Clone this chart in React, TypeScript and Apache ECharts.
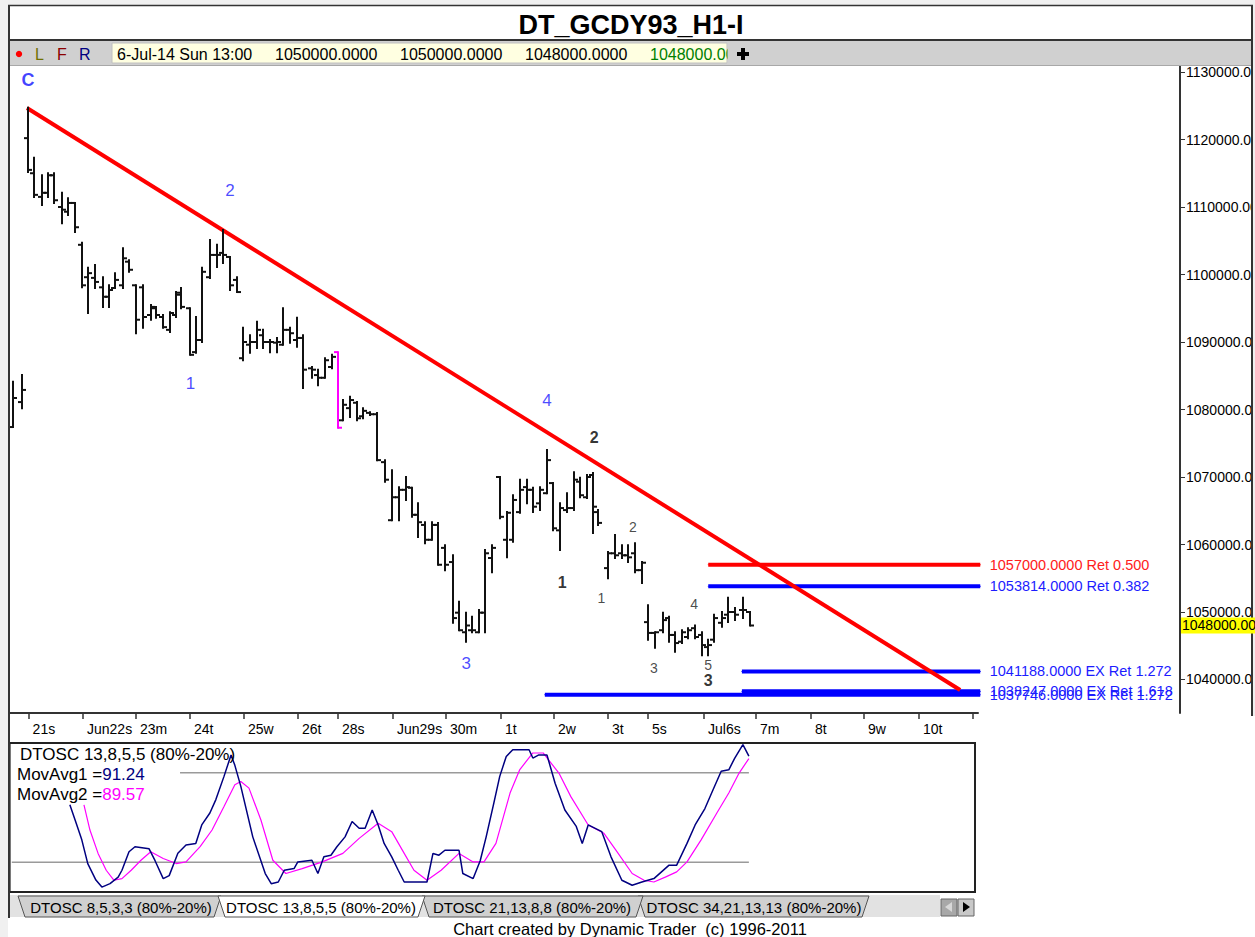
import React, { useEffect, useRef } from "react";
import * as echarts from "echarts";

const FONT = '"Liberation Sans", Arial, Helvetica, sans-serif';

// ---- price bars (time in bar units, prices) ----
const barTime = [0.6,2.3,3.4,4.5,6.0,7.1,8.2,9.7,10.8,12.0,13.3,14.4,15.7,17.2,18.3,19.4,20.9,22.0,23.3,24.6,26.0,27.0,28.3,29.6,30.7,31.6,33.2,34.3,35.4,36.9,38.2,39.3,40.6,41.9,43.0,44.3,45.6,46.7,48.0,49.3,50.4,51.7,52.9,54.1,55.7,56.8,58.1,59.4,60.5,61.4,62.7,64.0,65.1,66.4,67.7,69.2,70.4,71.7,73.0,74.1,75.2,76.5,77.8,78.9,80.2,81.7,82.8,84.1,85.2,86.5,87.6,88.9,90.3,91.6,92.7,94.0,95.3,96.4,97.7,99.0,100.1,101.4,102.7,103.9,105.1,106.4,107.5,108.4,110.3,111.5,112.8,113.9,115.2,116.5,117.6,118.9,120.4,121.5,122.6,123.9,125.0,126.3,127.6,128.7,129.8,131.2,132.4,133.6,135.1,136.4];
const barOpen = [1077400,1081100,1120200,1115000,1111500,1112100,1114700,1110000,1109300,1110600,1104400,1099600,1099500,1098100,1096700,1098000,1098400,1101900,1098400,1098100,1094000,1095000,1093700,1091800,1094000,1097000,1095000,1088500,1090300,1099600,1102900,1103200,1102600,1099200,1087600,1089600,1090000,1091000,1090000,1089900,1089600,1091800,1090300,1090600,1086100,1085100,1084700,1086300,1088500,1078400,1080200,1081000,1079000,1079500,1079300,1072200,1063600,1067000,1068100,1068400,1064400,1062900,1060700,1062900,1059500,1057400,1049900,1047000,1047300,1047000,1049900,1058000,1070000,1060700,1060700,1064800,1068500,1068100,1066100,1067600,1069100,1062100,1065100,1065400,1069300,1067000,1070300,1064800,1056500,1058700,1058700,1058400,1058700,1056200,1048500,1046900,1047300,1049100,1046600,1045600,1046300,1047600,1046600,1044800,1045900,1048400,1049600,1050000,1050300,1050000];
const barHigh = [1084100,1085100,1124700,1117300,1114700,1115000,1115000,1112100,1111300,1110600,1104700,1101000,1101400,1099600,1098400,1100200,1103900,1102100,1098400,1098400,1095500,1095200,1094000,1094400,1097400,1098000,1095000,1093700,1101000,1105100,1104400,1106600,1102600,1099600,1092100,1091000,1093000,1091800,1090300,1090600,1095000,1092100,1093600,1091000,1086300,1085900,1087600,1088100,1088500,1081400,1081900,1081100,1080200,1079600,1079500,1072500,1071000,1068500,1070000,1068400,1066100,1063300,1063300,1063200,1059900,1058400,1051500,1049900,1049300,1050300,1059200,1059900,1070000,1064800,1067300,1069600,1069600,1068400,1068500,1074000,1069100,1066100,1067600,1070700,1069900,1070300,1070600,1065100,1058900,1061400,1059900,1059900,1060200,1057400,1051000,1047000,1049900,1049300,1047000,1047300,1047600,1048000,1047000,1045900,1049600,1050000,1052100,1050600,1052100,1050000];
const barLow = [1077400,1080200,1115200,1111500,1110300,1111500,1110600,1107600,1108800,1106300,1098100,1094300,1098000,1095200,1095200,1098000,1098000,1100400,1091300,1092100,1093300,1093600,1092100,1091500,1093700,1095000,1088100,1088400,1090000,1099500,1101100,1101700,1097700,1097400,1087300,1088400,1089100,1089100,1088500,1088500,1089600,1089900,1089300,1083200,1084700,1083600,1084700,1086100,1077300,1078400,1078900,1078400,1078700,1079200,1072500,1069300,1063600,1063600,1066600,1064100,1061100,1060200,1060700,1057000,1056200,1048400,1047300,1045600,1047000,1047000,1047000,1055900,1063900,1058100,1060400,1064700,1066100,1064800,1065100,1067600,1062100,1059200,1064800,1065100,1067000,1066900,1061700,1062900,1055000,1058000,1058000,1057400,1055900,1054300,1045900,1044700,1047000,1045600,1044100,1045400,1046100,1046100,1043600,1043600,1045600,1047800,1048500,1048800,1049100,1048000];
const barClose = [1081700,1082900,1115500,1111800,1112100,1114700,1111000,1109600,1110600,1107000,1098400,1100200,1098900,1096700,1097700,1099200,1102400,1100700,1093300,1093700,1095200,1094000,1092200,1094300,1097300,1095200,1088100,1090300,1100400,1102900,1102900,1102900,1098400,1097400,1090000,1090000,1091800,1090000,1090000,1090000,1091800,1091300,1090600,1085900,1085900,1084700,1087300,1087800,1077300,1080700,1081400,1078700,1079800,1079300,1072500,1069600,1067000,1068100,1068500,1064400,1063300,1060700,1062900,1057000,1057000,1049100,1047300,1048000,1047300,1049900,1058700,1059500,1064100,1064700,1066600,1068100,1068100,1065600,1068100,1072500,1062400,1065400,1065400,1069600,1067300,1070000,1065600,1063200,1058700,1058400,1058400,1058100,1056200,1057300,1046900,1047000,1048800,1046600,1045400,1047000,1047300,1046300,1045100,1045100,1049100,1049100,1050000,1049600,1050300,1048000];
const HIGHLIGHT_BAR = 48;

// ---- axis ticks ----
const dayTicks = [3.5,13.52,23.29,33.23,43.18,53.13,60.5,70.63,80.4,90.53,100.29,110.24,117.61,127.93,137.51,147.64,157.4,167.53,177.48];
const dayLabels = ["21s","Jun22s","23m","24t","25w","26t","28s","Jun29s","30m","1t","2w","3t","5s","Jul6s","7m","8t","9w","10t"];
const priceTicks = [1040000,1050000,1060000,1070000,1080000,1090000,1100000,1110000,1120000,1130000];

// ---- trend line ----
const trendTime = [3.2, 175.1];
const trendPrice = [1124667, 1038444];

// ---- fibonacci levels ----
const fibPrice = [1057000, 1053814, 1041188, 1038247, 1037746];
const fibName = ["Ret 0.500", "Ret 0.382", "EX Ret 1.272", "EX Ret 1.618", "EX Ret 1.272"];
const fibFrom = [128.7, 128.7, 134.9, 134.9, 98.6];
const fibTo = 178.8;
const fibKind = ["red", "blue", "blue", "blue", "blue"];

// ---- wave labels ----
const waveText = ["C","2","1","4","3","2","1","3","2","1","3","4","5"];
const waveTime = [3.4,40.6,33.3,99.0,84.1,107.7,101.8,128.7,114.8,109.0,118.7,126.1,128.7];
const wavePrice = [1128800,1112500,1083900,1081400,1042400,1075800,1054400,1039900,1062600,1052100,1041700,1051200,1042100];
const waveDegree = ["cycle","primary","primary","primary","primary","minor","minor","minor","minute","minute","minute","minute","minute"];

// ---- oscillator (DTOSC 13,8,5,5) ----
const ma1Time = [11.1,12.1,13.3,14.4,15.9,17.0,18.5,20.0,20.7,22.0,23.1,25.7,26.8,28.3,29.4,31.0,32.5,34.3,35.4,36.9,38.0,39.5,40.8,41.5,42.6,44.8,47.1,48.2,49.5,50.6,52.4,53.1,55.7,56.8,57.9,59.2,60.3,61.8,63.1,64.4,65.5,66.8,67.9,69.0,70.4,71.6,72.7,76.9,78.0,79.1,80.2,82.8,83.5,85.4,86.7,87.8,89.2,90.3,91.5,92.7,95.7,96.4,97.5,99.0,100.5,102.3,104.4,105.5,106.6,109.1,110.8,112.8,114.7,116.5,118.7,121.5,122.9,124.8,126.3,128.1,129.6,131.1,132.5,133.6,135.1,136.2];
const ma1Value = [58.5,48,35,19,8,3.3,5.6,10,14.6,27,30.4,29,21,9,11,26,31.5,32.6,45,53,62,77.6,92,85,70.9,37,12.4,5.6,6.7,14.6,15.7,20.2,21.3,12.4,23.6,24.7,30.4,37,47.3,42.8,42.8,55,45,32.6,23.6,14.6,6.7,6.7,25.9,24.7,28,28,12.4,9,21,37,59.5,77.6,91,95.5,95.5,89.9,92,92,73,55,44,32.6,45,40.5,23.6,7.9,4.5,6.7,9,18,18,32.6,45,56,68.6,81,82,89.9,98.9,91.24];
const ma2Time = [13.7,14.8,16.3,17.8,19.2,20.7,22.4,24.2,26.0,28.3,30.7,32.5,35.1,37.3,39.5,41.5,42.6,44.1,46.3,48.5,50.9,53.9,57.6,61.4,64.4,67.9,70.4,72.7,74.5,76.9,79.5,82.8,85.4,87.4,89.6,92.2,94.0,96.4,98.3,101.2,103.4,106.6,109.5,111.7,114.7,116.9,118.7,120.8,122.9,124.8,127.4,130.3,132.5,134.4,136.2];
const ma2Value = [58.5,41.6,25.9,14.6,7.9,9,14.6,21.3,27,22.5,19.1,20.2,30.4,41.6,57.4,72,74.2,69.7,48.3,21.3,12.4,15.7,20.2,25.9,36,46.1,40.5,25.9,14.6,7.9,14.6,25.9,20.2,20.2,32.6,66.4,82.2,93.3,93.3,79.8,64,45,39.4,28.1,12.4,7.9,6.7,10,13.5,20.2,35,53,66.4,79.8,89.57];
const oscLevels = [80, 20];
const oscLevelFrom = [31.4, 0.4];
const oscLevelTo = 136.2;

const tabNames = ["DTOSC 8,5,3,3 (80%-20%)", "DTOSC 13,8,5,5 (80%-20%)", "DTOSC 21,13,8,8 (80%-20%)", "DTOSC 34,21,13,13 (80%-20%)"];

function buildOption() {
  const n = Math.min(barTime.length, barOpen.length, barHigh.length, barLow.length, barClose.length);
  const ohlc = [];
  for (let i = 0; i < n; i++) ohlc.push([barTime[i], barOpen[i], barHigh[i], barLow[i], barClose[i]]);
  const last = n - 1;

  const degreeStyle: Record<string, any> = {
    cycle: { color: "#1010ff", fontWeight: "bold", fontSize: 18 },
    primary: { color: "#1c1cff", fontWeight: "normal", fontSize: 17 },
    minor: { color: "#000000", fontWeight: "bold", fontSize: 16 },
    minute: { color: "#1a1a1a", fontWeight: "normal", fontSize: 14 },
  };
  const waveData = waveText.map((t, i) => ({
    value: [waveTime[i], wavePrice[i]],
    name: t,
    label: { show: true, ...degreeStyle[waveDegree[i]], fontFamily: FONT },
  }));

  const fibSeries = fibPrice.map((p, i) => {
    const col = fibKind[i] === "red" ? "#ff0000" : "#0000ff";
    const txt = fibKind[i] === "red" ? "#ff2020" : "#1c1cff";
    return {
      type: "line",
      xAxisIndex: 0,
      yAxisIndex: 0,
      silent: true,
      symbol: "circle",
      symbolSize: 1,
      showSymbol: true,
      z: 3,
      lineStyle: { color: col, width: 4 },
      itemStyle: { color: col },
      data: [
        [fibFrom[i], p],
        {
          value: [fibTo, p],
          label: {
            show: true,
            position: "right",
            distance: 9,
            formatter: `${p.toFixed(4)} ${fibName[i]}`,
            color: txt,
            fontSize: 14.5,
            fontFamily: FONT,
          },
        },
      ],
    };
  });

  const fmtDay = (v: number) => {
    const i = dayTicks.findIndex((d) => Math.abs(d - v) < 1e-6);
    return i >= 0 && i < dayLabels.length ? dayLabels[i] : "";
  };

  const tabPolys = [
    [[18, 896], [25, 917], [214, 917], [221, 896]],
    [[218, 896], [225, 917], [418, 917], [425, 896]],
    [[422, 896], [429, 917], [636, 917], [643, 896]],
    [[638, 896], [645, 917], [862, 917], [869, 896]],
  ];
  const tabCenters = [121, 321, 532, 754];
  const tabOrder = [3, 2, 0, 1];
  const tabEls: any[] = [];
  tabOrder.forEach((k) => {
    tabEls.push({
      type: "polygon",
      shape: { points: tabPolys[k] },
      style: { fill: k === 1 ? "#ffffff" : "#d0d0d0", stroke: "#555", lineWidth: 1 },
      z: 20,
    });
    tabEls.push({
      type: "text",
      x: tabCenters[k],
      y: 907,
      style: { text: tabNames[k], fill: "#000", font: `15px ${FONT}`, align: "center", verticalAlign: "middle", textAlign: "center", textVerticalAlign: "middle" },
      z: 21,
    });
  });

  const tf = (s: number, w = "normal") => `${w} ${s}px ${FONT}`;
  const tbText = (x: number, text: string, fill = "#000") => ({
    type: "text",
    x,
    y: 54,
    style: { text, fill, font: tf(16), verticalAlign: "middle", textVerticalAlign: "middle" },
    z: 31,
  });

  const graphic: any[] = [
    // outer light frame
    { type: "rect", shape: { x: 0, y: 0, width: 1255, height: 5 }, style: { fill: "#f0f0f0" }, z: 40 },
    { type: "rect", shape: { x: 0, y: 0, width: 8, height: 937 }, style: { fill: "#f0f0f0" }, z: 40 },
    { type: "rect", shape: { x: 1253, y: 0, width: 2, height: 716 }, style: { fill: "#f0f0f0" }, z: 40 },
    { type: "line", shape: { x1: 8, y1: 5.5, x2: 1253, y2: 5.5 }, style: { stroke: "#333", lineWidth: 1.5 }, z: 41 },
    { type: "line", shape: { x1: 9, y1: 5, x2: 9, y2: 918 }, style: { stroke: "#333", lineWidth: 2 }, z: 41 },
    { type: "line", shape: { x1: 1252, y1: 5, x2: 1252, y2: 716 }, style: { stroke: "#333", lineWidth: 2 }, z: 41 },
    // title
    {
      type: "text",
      x: 631,
      y: 25,
      style: { text: "DT_GCDY93_H1-I", fill: "#000", font: tf(27, "bold"), align: "center", verticalAlign: "middle", textAlign: "center", textVerticalAlign: "middle" },
      z: 30,
    },
    // toolbar
    { type: "line", shape: { x1: 9, y1: 40, x2: 1253, y2: 40 }, style: { stroke: "#333", lineWidth: 2 }, z: 30 },
    { type: "rect", shape: { x: 10, y: 41, width: 1242, height: 24 }, style: { fill: "#d0d0d0" }, z: 30 },
    { type: "line", shape: { x1: 10, y1: 65.5, x2: 1252, y2: 65.5 }, style: { stroke: "#a8a8a8", lineWidth: 1 }, z: 30 },
    { type: "circle", shape: { cx: 19, cy: 54, r: 3.2 }, style: { fill: "#ff0000" }, z: 31 },
    tbText(35, "L", "#707000"),
    tbText(57, "F", "#8b0000"),
    tbText(79, "R", "#000080"),
    { type: "rect", shape: { x: 112, y: 43, width: 615, height: 20 }, style: { fill: "#ffffe1", stroke: "#c0c0c0", lineWidth: 1 }, z: 30 },
    tbText(117, "6-Jul-14 Sun 13:00"),
    tbText(275, barOpen[last].toFixed(4)),
    tbText(400, barHigh[last].toFixed(4)),
    tbText(525, barLow[last].toFixed(4)),
    tbText(650, barClose[last].toFixed(4), "#008000"),
    { type: "rect", shape: { x: 727.5, y: 42, width: 40, height: 22 }, style: { fill: "#d0d0d0" }, z: 32 },
    { type: "rect", shape: { x: 737, y: 52, width: 12, height: 4 }, style: { fill: "#000" }, z: 33 },
    { type: "rect", shape: { x: 741, y: 48, width: 4, height: 12 }, style: { fill: "#000" }, z: 33 },
    // oscillator legend
    {
      type: "text",
      x: 20,
      y: 754,
      style: { text: "DTOSC 13,8,5,5 (80%-20%)", fill: "#000", font: tf(17), verticalAlign: "middle", textVerticalAlign: "middle" },
      z: 30,
    },
    {
      type: "text",
      x: 17,
      y: 774,
      style: {
        text: `{k|MovAvg1 =}{v|${ma1Value[ma1Value.length - 1].toFixed(2)}}`,
        rich: { k: { fill: "#000", fontSize: 17, fontFamily: FONT }, v: { fill: "#000080", fontSize: 17, fontFamily: FONT } },
        verticalAlign: "middle",
        textVerticalAlign: "middle",
      },
      z: 30,
    },
    {
      type: "text",
      x: 17,
      y: 794,
      style: {
        text: `{k|MovAvg2 =}{v|${ma2Value[ma2Value.length - 1].toFixed(2)}}`,
        rich: { k: { fill: "#000", fontSize: 17, fontFamily: FONT }, v: { fill: "#ff00ff", fontSize: 17, fontFamily: FONT } },
        verticalAlign: "middle",
        textVerticalAlign: "middle",
      },
      z: 30,
    },
    // tabs strip
    { type: "rect", shape: { x: 10, y: 895, width: 930, height: 22 }, style: { fill: "#e2e2e2" }, z: 19 },
    ...tabEls,
    { type: "rect", shape: { x: 941, y: 899, width: 16, height: 17 }, style: { fill: "#a8a8a8", stroke: "#666", lineWidth: 1 }, z: 20 },
    { type: "rect", shape: { x: 958, y: 899, width: 16, height: 17 }, style: { fill: "#c8c8c8", stroke: "#666", lineWidth: 1 }, z: 20 },
    { type: "polygon", shape: { points: [[945, 907], [952, 902], [952, 912]] }, style: { fill: "#d8d8d8" }, z: 21 },
    { type: "polygon", shape: { points: [[970, 907], [963, 902], [963, 912]] }, style: { fill: "#000" }, z: 21 },
    // footer
    {
      type: "text",
      x: 630,
      y: 929,
      style: { text: "Chart created by Dynamic Trader  (c) 1996-2011", fill: "#000", font: tf(16.5), align: "center", verticalAlign: "middle", textAlign: "center", textVerticalAlign: "middle" },
      z: 30,
    },
  ];

  return {
    animation: false,
    backgroundColor: "#ffffff",
    textStyle: { fontFamily: FONT },
    grid: [
      { left: 9.6, top: 66, width: 1170.4, height: 647, containLabel: false, outerBoundsMode: "none" },
      { left: 9.6, top: 743, width: 965.4, height: 149, show: true, borderColor: "#222", borderWidth: 2, backgroundColor: "#fff", containLabel: false, outerBoundsMode: "none" },
      { left: 9.6, top: 713, width: 968.4, height: 29, containLabel: false, outerBoundsMode: "none" },
    ],
    xAxis: [
      { gridIndex: 0, type: "value", min: 0, max: 215.6, show: false },
      { gridIndex: 1, type: "value", min: 0, max: 177.86, show: false },
      {
        gridIndex: 2,
        type: "value",
        position: "top",
        min: 0,
        max: 178.4,
        axisLine: { show: true, onZero: false, lineStyle: { color: "#333", width: 2 } },
        axisTick: { show: true, inside: true, length: 6, customValues: dayTicks, lineStyle: { color: "#333", width: 1.5 } },
        axisLabel: {
          show: true,
          inside: true,
          customValues: dayTicks.slice(0, dayLabels.length),
          formatter: fmtDay,
          align: "left",
          verticalAlign: "top",
          margin: 9,
          padding: [0, 0, 0, 4],
          color: "#000",
          fontSize: 14,
          fontFamily: FONT,
        },
        splitLine: { show: false },
      },
    ],
    yAxis: [
      {
        gridIndex: 0,
        type: "value",
        position: "right",
        min: 1035037,
        max: 1130889,
        axisLine: { show: true, onZero: false, lineStyle: { color: "#333", width: 2 } },
        axisTick: { show: true, length: 5, customValues: priceTicks, lineStyle: { color: "#333", width: 1 } },
        axisLabel: {
          show: true,
          customValues: priceTicks,
          formatter: (v: number) => v.toFixed(4),
          margin: 6,
          color: "#000",
          fontSize: 14,
          fontFamily: FONT,
        },
        splitLine: { show: false },
      },
      { gridIndex: 1, type: "value", min: 0, max: 100, show: false },
      { gridIndex: 2, type: "value", min: 0, max: 1, show: false },
    ],
    graphic,
    series: [
      {
        type: "line",
        xAxisIndex: 0,
        yAxisIndex: 0,
        silent: true,
        symbol: "none",
        z: 4,
        lineStyle: { color: "#ff0000", width: 4 },
        data: trendTime.map((t, i) => [t, trendPrice[i]]),
      },
      ...fibSeries,
      {
        type: "custom",
        xAxisIndex: 0,
        yAxisIndex: 0,
        silent: true,
        z: 5,
        encode: { x: 0, y: [1, 2, 3, 4] },
        data: ohlc,
        renderItem: (params: any, api: any) => {
          const t = api.value(0);
          const o = api.coord([t, api.value(1)]);
          const h = api.coord([t, api.value(2)]);
          const l = api.coord([t, api.value(3)]);
          const c = api.coord([t, api.value(4)]);
          const x = Math.round(h[0]);
          const col = params.dataIndex === HIGHLIGHT_BAR ? "#ff00ff" : "#111111";
          const st = { stroke: col, lineWidth: 2 };
          return {
            type: "group",
            children: [
              { type: "line", shape: { x1: x, y1: h[1] - 1, x2: x, y2: l[1] + 1 }, style: st },
              { type: "line", shape: { x1: x - 4, y1: o[1], x2: x, y2: o[1] }, style: st },
              { type: "line", shape: { x1: x, y1: c[1], x2: x + 4, y2: c[1] }, style: st },
            ],
          };
        },
      },
      {
        type: "scatter",
        xAxisIndex: 0,
        yAxisIndex: 0,
        silent: true,
        symbolSize: 1,
        itemStyle: { color: "rgba(0,0,0,0)" },
        z: 6,
        label: { show: true, position: "inside", formatter: (p: any) => p.name },
        data: waveData,
      },
      ...oscLevels.map((lv, i) => ({
        type: "line",
        xAxisIndex: 1,
        yAxisIndex: 1,
        silent: true,
        symbol: "none",
        lineStyle: { color: "#9a9a9a", width: 1.5 },
        data: [[oscLevelFrom[i], lv], [oscLevelTo, lv]],
      })),
      {
        type: "line",
        xAxisIndex: 1,
        yAxisIndex: 1,
        silent: true,
        symbol: "none",
        z: 4,
        lineStyle: { color: "#ff00ff", width: 1.2 },
        data: ma2Time.map((t, i) => [t, ma2Value[i]]),
      },
      {
        type: "line",
        xAxisIndex: 1,
        yAxisIndex: 1,
        silent: true,
        symbol: "none",
        z: 5,
        lineStyle: { color: "#000080", width: 1.5 },
        data: ma1Time.map((t, i) => [t, ma1Value[i]]),
      },
    ],
  };
}

export default function App() {
  const ref = useRef<HTMLDivElement>(null);
  useEffect(() => {
    if (!ref.current) return;
    const chart = echarts.init(ref.current, null, { renderer: "svg" });
    chart.setOption(buildOption() as any);
    const lastClose = barClose[barClose.length - 1];
    const py = chart.convertToPixel({ yAxisIndex: 0 } as any, lastClose) as unknown as number;
    if (typeof py === "number" && isFinite(py)) {
      chart.setOption({
        graphic: [
          {
            id: "lastPriceBox",
            type: "rect",
            shape: { x: 1181, y: py - 8, width: 74, height: 16 },
            style: { fill: "#ffff00" },
            z: 45,
          },
          {
            id: "lastPriceText",
            type: "text",
            x: 1182,
            y: py,
            style: {
              text: lastClose.toFixed(4),
              fill: "#000",
              font: `14px ${FONT}`,
              verticalAlign: "middle",
              textVerticalAlign: "middle",
            },
            z: 46,
          },
        ],
      } as any);
    }
    return () => chart.dispose();
  }, []);
  return (
    <div
      ref={ref}
      style={{ position: "fixed", left: 0, top: 0, width: 1255, height: 937, background: "#fff" }}
    />
  );
}
